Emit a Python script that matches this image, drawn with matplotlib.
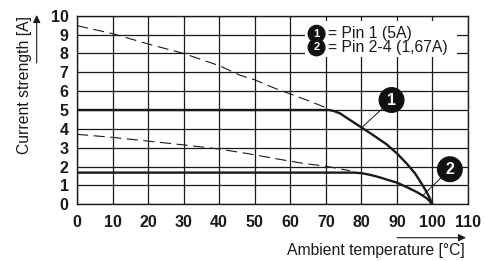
import matplotlib
matplotlib.use("Agg")
import matplotlib.pyplot as plt
from matplotlib.patches import Rectangle, FancyArrowPatch

# ---- data ----
x_ticks = [0, 10, 20, 30, 40, 50, 60, 70, 80, 90, 100, 110]
y_ticks = [0, 1, 2, 3, 4, 5, 6, 7, 8, 9, 10]

pin1_temp = [0, 71, 72.5, 74, 76.8, 80, 83.3, 87.1, 90, 92.7, 95.1, 96.9, 98.3, 99.2, 99.7, 100]
pin1_curr = [5, 5, 4.93, 4.82, 4.47, 4.08, 3.67, 3.18, 2.7, 2.17, 1.64, 1.11, 0.67, 0.35, 0.12, 0]

pin1_dash_temp = [0, 10, 20, 30, 40, 45.8, 50, 55, 60, 65, 71]
pin1_dash_curr = [9.47, 9.05, 8.5, 8.0, 7.35, 6.85, 6.6, 6.2, 5.85, 5.5, 5.05]

pin2_temp = [0, 78, 80, 82, 83.8, 85.5, 87.5, 90, 93.1, 95.9, 98.4, 99.2, 99.6, 100]
pin2_curr = [1.68, 1.68, 1.65, 1.58, 1.5, 1.41, 1.29, 1.15, 0.88, 0.62, 0.32, 0.17, 0.07, 0]

pin2_dash_temp = [0, 10, 20, 30, 40, 48.6, 55, 63.6, 69.7, 76.8]
pin2_dash_curr = [3.71, 3.55, 3.35, 3.15, 2.93, 2.67, 2.45, 2.17, 2.03, 1.78]

legend_labels = ["= Pin 1 (5A)", "= Pin 2-4 (1,67A)"]
callout_labels = ["1", "2"]

FONT = ["Liberation Sans", "DejaVu Sans"]
plt.rcParams["font.family"] = FONT
INK = "#1a1a1a"

fig = plt.figure(figsize=(4.86, 2.61), dpi=100)
ax = fig.add_axes([77 / 486, 1 - 204.3 / 261, 391 / 486, 188.6 / 261])
ax.set_xlim(0, 110)
ax.set_ylim(0, 10)
ax.set_xticks(x_ticks)
ax.set_yticks(y_ticks)
ax.tick_params(length=0, labelsize=11.5, pad=6, colors=INK)
ax.tick_params(axis="x", pad=8)
for lab in ax.get_xticklabels() + ax.get_yticklabels():
    lab.set_fontweight("bold")
ax.grid(True, color=INK, lw=0.9)
ax.set_axisbelow(True)
for s in ax.spines.values():
    s.set_color(INK)
    s.set_linewidth(1.0)

# legend box (white, covers grid)
ax.add_patch(Rectangle((64.1, 7.8), 42.7, 1.92, facecolor="white", edgecolor="none", zorder=1.5))

ax.plot(pin1_dash_temp, pin1_dash_curr, color=INK, lw=0.8, dashes=(10, 5), zorder=3)
ax.plot(pin2_dash_temp, pin2_dash_curr, color=INK, lw=0.8, dashes=(10, 5), zorder=3)
ax.plot(pin1_temp, pin1_curr, color=INK, lw=1.7, zorder=4, solid_joinstyle="round")
ax.plot(pin2_temp, pin2_curr, color=INK, lw=1.7, zorder=4, solid_joinstyle="round")

# callouts
callout_xy = [(80, 4.05), (97.4, 0.49)]
callout_txt = [(88.5, 5.53), (104.9, 1.86)]
for lab, xy, xt in zip(callout_labels, callout_xy, callout_txt):
    ax.annotate(lab, xy=xy, xytext=xt, ha="center", va="center",
                color="white", fontsize=11.5, fontweight="bold",
                bbox=dict(boxstyle="circle,pad=0.3", fc="#111111", ec="#111111"),
                arrowprops=dict(arrowstyle="-", lw=0.7, color=INK, shrinkA=0, shrinkB=0), zorder=5)

# legend entries
for i, (num, lab) in enumerate(zip(callout_labels, legend_labels)):
    yp = 9.04 - i * 0.72
    ax.text(67.4, yp, num, ha="center", va="center", color="white", fontsize=8, fontweight="bold",
            bbox=dict(boxstyle="circle,pad=0.3", fc="#111111", ec="#111111"), zorder=5)
    ax.text(70.6, yp, lab, ha="left", va="center", fontsize=11.3, color=INK, zorder=5)

# axis labels with arrows
fig.text(24.5 / 486, 1 - 85 / 261, "Current strength [A]", rotation=90, ha="center", va="center",
         fontsize=11.3, color=INK)
fig.text(465 / 486, 1 - 250 / 261, "Ambient temperature [°C]", ha="right", va="center",
         fontsize=11.3, color=INK)
fig.add_artist(FancyArrowPatch(
    (36.7 / 486, 1 - 63 / 261), (36.7 / 486, 1 - 15 / 261), transform=fig.transFigure,
    arrowstyle="-|>,head_length=4.5,head_width=2.2", lw=0.8, color=INK, shrinkA=0, shrinkB=0))
fig.add_artist(FancyArrowPatch(
    (397 / 486, 1 - 237.7 / 261), (466 / 486, 1 - 237.7 / 261), transform=fig.transFigure,
    arrowstyle="-|>,head_length=4.5,head_width=2.2", lw=0.8, color=INK, shrinkA=0, shrinkB=0))

fig.savefig("out.png", dpi=100)
